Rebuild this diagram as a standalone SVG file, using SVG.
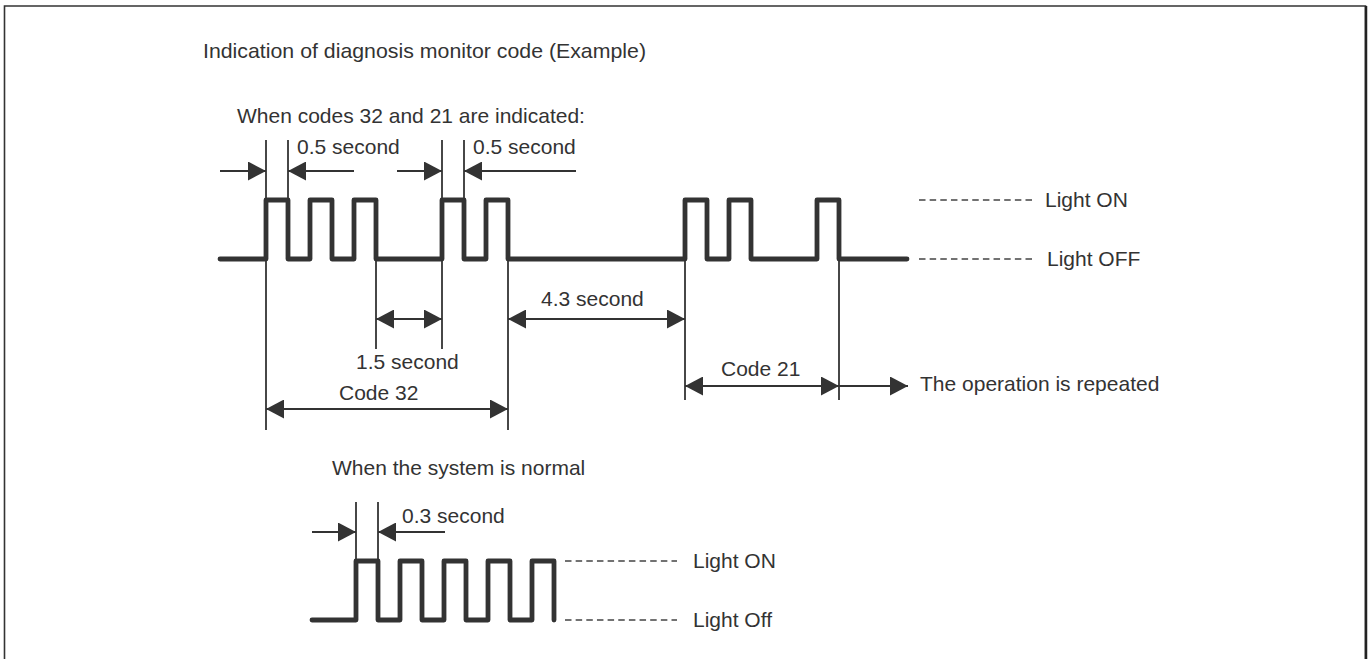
<svg xmlns="http://www.w3.org/2000/svg" width="1369" height="659" viewBox="0 0 1369 659">
<style>
text{font-family:"Liberation Sans",Arial,sans-serif;font-size:21px;fill:#333}
.wave{fill:none;stroke:#333;stroke-width:4.8;stroke-linejoin:round;stroke-linecap:round}
.thin{fill:none;stroke:#333;stroke-width:1.8}
.dash{fill:none;stroke:#444;stroke-width:1.7;stroke-dasharray:6.5 4.15}
.arr{fill:none;stroke:#333;stroke-width:1.8;marker-end:url(#ah)}
.darr{fill:none;stroke:#333;stroke-width:1.8;marker-start:url(#ah);marker-end:url(#ah)}
</style>
<defs>
<marker id="ah" markerWidth="18" markerHeight="19" refX="18" refY="9.5" orient="auto-start-reverse" markerUnits="userSpaceOnUse">
<path d="M0,0 L18,9.5 L0,19 Z" fill="#333"/>
</marker>
</defs>
<rect width="1369" height="659" fill="#fff"/>
<g id="frame">
<path d="M4.5,659 V6 H1365.5 V659" fill="none" stroke="#333" stroke-width="1.6"/>
<line x1="1366" y1="6" x2="1366" y2="659" stroke="#222" stroke-width="2.5"/>
</g>
<g id="titles">
<text x="203" y="58" textLength="443" lengthAdjust="spacingAndGlyphs">Indication of diagnosis monitor code (Example)</text>
<text x="237" y="123">When codes 32 and 21 are indicated:</text>
<text x="332" y="475">When the system is normal</text>
</g>
<g id="code-waveform">
<path class="wave" d="M220,259 H266 V200 H288 V259 H310 V200 H332 V259 H354 V200 H376 V259 H442 V200 H464 V259 H486 V200 H508 V259 H685 V200 H707 V259 H729 V200 H751 V259 H817 V200 H839 V259 H907"/>
</g>
<g id="normal-waveform">
<path class="wave" d="M312,620 H356 V561 H378 V620 H400 V561 H422 V620 H444 V561 H466 V620 H488 V561 H510 V620 H532 V561 H554 V620"/>
</g>
<g id="legend-top">
<line class="dash" x1="919" y1="200" x2="1032" y2="200"/>
<text x="1045" y="207">Light ON</text>
<line class="dash" x1="919" y1="259" x2="1032" y2="259"/>
<text x="1047" y="266">Light OFF</text>
</g>
<g id="legend-bottom">
<line class="dash" x1="565" y1="561" x2="677" y2="561"/>
<text x="693" y="568">Light ON</text>
<line class="dash" x1="565" y1="620" x2="677" y2="620"/>
<text x="693" y="627">Light Off</text>
</g>
<g id="connectors">
<line class="thin" x1="266" y1="140" x2="266" y2="200"/>
<line class="thin" x1="288" y1="140" x2="288" y2="200"/>
<line class="thin" x1="442" y1="140" x2="442" y2="200"/>
<line class="thin" x1="464" y1="140" x2="464" y2="200"/>
<line class="thin" x1="266" y1="259" x2="266" y2="430"/>
<line class="thin" x1="376" y1="259" x2="376" y2="349"/>
<line class="thin" x1="442" y1="259" x2="442" y2="349"/>
<line class="thin" x1="508" y1="259" x2="508" y2="430"/>
<line class="thin" x1="685" y1="259" x2="685" y2="400"/>
<line class="thin" x1="839" y1="259" x2="839" y2="400"/>
<line class="thin" x1="356" y1="502" x2="356" y2="561"/>
<line class="thin" x1="378" y1="502" x2="378" y2="561"/>
<line class="arr" x1="220" y1="171" x2="266" y2="171"/>
<line class="arr" x1="354" y1="171" x2="288" y2="171"/>
<line class="arr" x1="397" y1="171" x2="442" y2="171"/>
<line class="arr" x1="576" y1="171" x2="464" y2="171"/>
<line class="darr" x1="376" y1="319" x2="442" y2="319"/>
<line class="darr" x1="508" y1="319" x2="685" y2="319"/>
<line class="darr" x1="266" y1="409" x2="508" y2="409"/>
<line class="darr" x1="685" y1="386" x2="839" y2="386"/>
<line class="arr" x1="839" y1="386" x2="908" y2="386"/>
<line class="arr" x1="312" y1="532" x2="356" y2="532"/>
<line class="arr" x1="445" y1="532" x2="378" y2="532"/>
</g>
<g id="labels">
<text x="297" y="154">0.5 second</text>
<text x="473" y="154">0.5 second</text>
<text x="541" y="306">4.3 second</text>
<text x="356" y="369">1.5 second</text>
<text x="339" y="400">Code 32</text>
<text x="721" y="376">Code 21</text>
<text x="920" y="391">The operation is repeated</text>
<text x="402" y="523">0.3 second</text>
</g>
</svg>
